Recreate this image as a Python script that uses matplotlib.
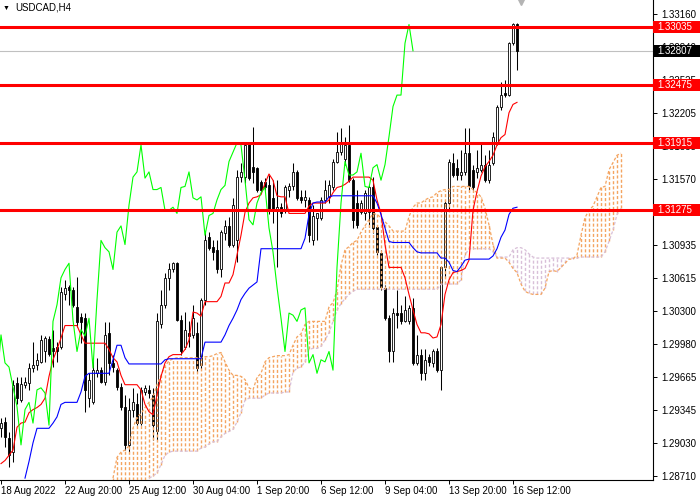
import numpy as np
import matplotlib.pyplot as plt
from matplotlib.patches import Rectangle
import matplotlib.transforms as mtransforms

plt.rcParams['font.family'] = ['Liberation Sans', 'DejaVu Sans']

nan = np.nan

# USDCAD H4 candles (bar 0 = 18 Aug 2022)
opens = [
    1.2917, 1.2923, 1.2908, 1.2894, 1.2961, 1.2944, 1.2959, 1.2961, 1.2975, 1.2978,
    1.2981, 1.2991, 1.3003, 1.2994, 1.2995, 1.2995, 1.3046, 1.3053, 1.3050, 1.3034,
    1.3024, 1.3023, 1.2946, 1.2942, 1.2970, 1.2973, 1.2962, 1.3009, 1.2980, 1.2973,
    1.2957, 1.2938, 1.2901, 1.2935, 1.2940, 1.2922, 1.2952, 1.2954, 1.2949, 1.2914,
    1.3017, 1.3036, 1.3062, 1.3070, 1.3076, 1.3021, 1.2995, 1.3009, 1.3007, 1.3009,
    1.2978, 1.3041, 1.3101, 1.3092, 1.3089, 1.3070, 1.3105, 1.3112, 1.3094, 1.3098,
    1.3159, 1.3159, 1.3192, 1.3169, 1.3168, 1.3154, 1.3154, 1.3151, 1.3139, 1.3127,
    1.3130, 1.3127, 1.3147, 1.3150, 1.3164, 1.3140, 1.3137, 1.3137, 1.3098, 1.3120,
    1.3120, 1.3137, 1.3140, 1.3149, 1.3174, 1.3183, 1.3176, 1.3190, 1.3156, 1.3134,
    1.3125, 1.3124, 1.3125, 1.3149, 1.3111, 1.3086, 1.3052, 1.3023, 1.2991, 1.3028,
    1.3028, 1.3020, 1.3020, 1.3033, 1.2980, 1.2988, 1.2970, 1.2986, 1.2980, 1.2991,
    1.2973, 1.3072, 1.3134, 1.3173, 1.3168, 1.3161, 1.3164, 1.3182, 1.3166, 1.3164,
    1.3166, 1.3171, 1.3156, 1.3173, 1.3193, 1.3227, 1.3240, 1.3238, 1.3288, 1.3306,
]
highs = [
    1.2927, 1.2928, 1.2913, 1.2964, 1.2966, 1.2966, 1.2966, 1.2980, 1.3000, 1.2990,
    1.3007, 1.3006, 1.3006, 1.3012, 1.3000, 1.3053, 1.3060, 1.3055, 1.3053, 1.3063,
    1.3028, 1.3028, 1.2970, 1.2985, 1.2985, 1.2976, 1.3019, 1.3019, 1.2988, 1.2975,
    1.2961, 1.2949, 1.2946, 1.2956, 1.2951, 1.2957, 1.2959, 1.2959, 1.2956, 1.3028,
    1.3050, 1.3067, 1.3076, 1.3077, 1.3077, 1.3026, 1.3029, 1.3020, 1.3036, 1.3019,
    1.3043, 1.3106, 1.3106, 1.3098, 1.3098, 1.3108, 1.3118, 1.3121, 1.3139, 1.3166,
    1.3173, 1.3193, 1.3193, 1.3207, 1.3169, 1.3156, 1.3158, 1.3161, 1.3156, 1.3156,
    1.3134, 1.3151, 1.3153, 1.3173, 1.3166, 1.3147, 1.3147, 1.3140, 1.3132, 1.3124,
    1.3140, 1.3156, 1.3156, 1.3176, 1.3202, 1.3206, 1.3198, 1.3209, 1.3158, 1.3147,
    1.3137, 1.3147, 1.3151, 1.3159, 1.3113, 1.3089, 1.3055, 1.3026, 1.3033, 1.3050,
    1.3036, 1.3044, 1.3036, 1.3043, 1.3007, 1.2993, 1.2993, 1.2989, 1.2993, 1.2994,
    1.3073, 1.3137, 1.3176, 1.3182, 1.3176, 1.3185, 1.3206, 1.3206, 1.3171, 1.3185,
    1.3192, 1.3180, 1.3185, 1.3202, 1.3228, 1.3251, 1.3253, 1.3289, 1.3307, 1.3307,
]
lows = [
    1.2909, 1.2899, 1.2880, 1.2885, 1.2940, 1.2942, 1.2956, 1.2954, 1.2971, 1.2973,
    1.2980, 1.2981, 1.2987, 1.2976, 1.2981, 1.2993, 1.3041, 1.3036, 1.3034, 1.3015,
    1.2999, 1.2933, 1.2938, 1.2940, 1.2966, 1.2961, 1.2959, 1.2968, 1.2971, 1.2954,
    1.2935, 1.2896, 1.2894, 1.2928, 1.2920, 1.2920, 1.2949, 1.2946, 1.2906, 1.2906,
    1.3014, 1.3033, 1.3050, 1.3068, 1.3020, 1.2988, 1.2993, 1.2995, 1.3004, 1.2971,
    1.2973, 1.3036, 1.3089, 1.3079, 1.3067, 1.3063, 1.3098, 1.3092, 1.3092, 1.3077,
    1.3154, 1.3153, 1.3156, 1.3153, 1.3145, 1.3144, 1.3147, 1.3123, 1.3115, 1.3072,
    1.3121, 1.3124, 1.3140, 1.3147, 1.3137, 1.3134, 1.3130, 1.3096, 1.3094, 1.3098,
    1.3118, 1.3134, 1.3134, 1.3147, 1.3173, 1.3180, 1.3171, 1.3154, 1.3110, 1.3110,
    1.3123, 1.3118, 1.3111, 1.3105, 1.3084, 1.3050, 1.3021, 1.2981, 1.2981, 1.3014,
    1.3017, 1.3019, 1.3017, 1.2978, 1.2978, 1.2964, 1.2964, 1.2977, 1.2976, 1.2971,
    1.2954, 1.3062, 1.3127, 1.3159, 1.3156, 1.3156, 1.3161, 1.3147, 1.3147, 1.3158,
    1.3164, 1.3154, 1.3153, 1.3171, 1.3190, 1.3224, 1.3236, 1.3237, 1.3286, 1.3262,
]
closes = [
    1.2922, 1.2909, 1.2891, 1.2959, 1.2946, 1.2960, 1.2962, 1.2975, 1.2978, 1.2983,
    1.3002, 1.3004, 1.2989, 1.2991, 1.2991, 1.3048, 1.3052, 1.3050, 1.3036, 1.3019,
    1.3019, 1.2954, 1.2964, 1.2973, 1.2973, 1.2962, 1.3007, 1.2980, 1.2976, 1.2957,
    1.2938, 1.2901, 1.2935, 1.2942, 1.2922, 1.2954, 1.2956, 1.2951, 1.2920, 1.3020,
    1.3036, 1.3062, 1.3070, 1.3076, 1.3021, 1.2991, 1.3012, 1.3006, 1.3023, 1.2975,
    1.3041, 1.3098, 1.3091, 1.3087, 1.3070, 1.3106, 1.3112, 1.3094, 1.3132, 1.3159,
    1.3164, 1.3190, 1.3158, 1.3164, 1.3147, 1.3147, 1.3149, 1.3127, 1.3127, 1.3130,
    1.3124, 1.3149, 1.3150, 1.3164, 1.3139, 1.3137, 1.3140, 1.3103, 1.3122, 1.3124,
    1.3137, 1.3147, 1.3151, 1.3174, 1.3183, 1.3192, 1.3190, 1.3156, 1.3118, 1.3113,
    1.3134, 1.3144, 1.3149, 1.3110, 1.3087, 1.3053, 1.3023, 1.2991, 1.3028, 1.3026,
    1.3020, 1.3031, 1.3033, 1.2980, 1.2988, 1.2970, 1.2983, 1.2981, 1.2991, 1.2973,
    1.3072, 1.3134, 1.3174, 1.3161, 1.3161, 1.3164, 1.3182, 1.3150, 1.3149, 1.3168,
    1.3171, 1.3156, 1.3171, 1.3198, 1.3227, 1.3238, 1.3238, 1.3288, 1.3306, 1.32807,
]

# Ichimoku lines
tenkan = [
    1.2883, 1.2886, 1.2891, 1.2896, 1.2918, 1.2922, 1.2923, 1.2932, 1.2935, 1.2937,
    1.2940, 1.2946, 1.2967, 1.2983, 1.2993, 1.3004, 1.3016, 1.3016, 1.3016, 1.3016,
    1.3007, 1.2999, 1.2999, 1.2999, 1.2999, 1.2999, 1.2999, 1.2993, 1.2985, 1.2981,
    1.2968, 1.2959, 1.2959, 1.2959, 1.2959, 1.2954, 1.2940, 1.2933, 1.2930, 1.2949,
    1.2967, 1.2980, 1.2986, 1.2988, 1.2988, 1.2988, 1.2993, 1.3002, 1.3029, 1.3028,
    1.3025, 1.3039, 1.3039, 1.3039, 1.3039, 1.3044, 1.3057, 1.3057, 1.3065, 1.3084,
    1.3103, 1.3125, 1.3134, 1.3139, 1.3140, 1.3142, 1.3153, 1.3162, 1.3156, 1.3141,
    1.3140, 1.3140, 1.3124, 1.3124, 1.3124, 1.3124, 1.3124, 1.3131, 1.3134, 1.3134,
    1.3134, 1.3134, 1.3137, 1.3144, 1.3149, 1.3150, 1.3152, 1.3155, 1.3159, 1.3159,
    1.3159, 1.3159, 1.3159, 1.3156, 1.3137, 1.3124, 1.3094, 1.3072, 1.3072, 1.3072,
    1.3072, 1.3062, 1.3046, 1.3031, 1.3017, 1.3009, 1.3009, 1.3008, 1.3004, 1.3005,
    1.3017, 1.3046, 1.3060, 1.3067, 1.3068, 1.3069, 1.3071, 1.3079, 1.3127, 1.3145,
    1.3160, 1.3169, 1.3174, 1.3180, 1.3190, 1.3197, 1.3200, 1.3221, 1.3229, 1.3231,
]
kijun = [
    nan, nan, nan, nan, nan, nan, 1.2869, 1.2885, 1.2903, 1.2917,
    1.2917, 1.2917, 1.2917, 1.2922, 1.2928, 1.2940, 1.2942, 1.2942, 1.2942, 1.2942,
    1.2952, 1.2967, 1.2970, 1.2970, 1.2970, 1.2970, 1.2970, 1.2970, 1.2983, 1.2997,
    1.2997, 1.2985, 1.2979, 1.2979, 1.2979, 1.2979, 1.2979, 1.2979, 1.2979, 1.2979,
    1.2979, 1.2983, 1.2984, 1.2984, 1.2984, 1.2984, 1.2984, 1.2984, 1.2984, 1.2984,
    1.2984, 1.3000, 1.3000, 1.3000, 1.3000, 1.3000, 1.3007, 1.3016, 1.3023, 1.3031,
    1.3041, 1.3047, 1.3052, 1.3055, 1.3058, 1.3090, 1.3090, 1.3090, 1.3090, 1.3090,
    1.3090, 1.3090, 1.3090, 1.3090, 1.3090, 1.3090, 1.3100, 1.3123, 1.3134, 1.3135,
    1.3135, 1.3135, 1.3140, 1.3141, 1.3141, 1.3141, 1.3141, 1.3141, 1.3141, 1.3141,
    1.3141, 1.3141, 1.3141, 1.3141, 1.3134, 1.3123, 1.3110, 1.3097, 1.3096, 1.3096,
    1.3096, 1.3096, 1.3096, 1.3091, 1.3087, 1.3086, 1.3086, 1.3086, 1.3086, 1.3086,
    1.3081, 1.3081, 1.3077, 1.3069, 1.3068, 1.3073, 1.3079, 1.3080, 1.3080, 1.3080,
    1.3080, 1.3080, 1.3080, 1.3083, 1.3090, 1.3101, 1.3108, 1.3123, 1.3129, 1.3130,
]

# cloud, first value at bar 28 (already shifted 26 bars forward)
cloud_start = 28
span_a = [
    1.2869, 1.2889,
    1.2894, 1.2896, 1.2900, 1.2917, 1.2928, 1.2931, 1.2937, 1.2942, 1.2947, 1.2959,
    1.2968, 1.2977, 1.2982, 1.2984, 1.2985, 1.2985, 1.2985, 1.2985, 1.2985, 1.2985,
    1.2985, 1.2986, 1.2986, 1.2987, 1.2989, 1.2990, 1.2981, 1.2973, 1.2968, 1.2968,
    1.2967, 1.2964, 1.2956, 1.2954, 1.2966, 1.2970, 1.2981, 1.2985, 1.2986, 1.2987,
    1.2987, 1.2987, 1.2988, 1.2997, 1.3005, 1.3008, 1.3017, 1.3020, 1.3020, 1.3020,
    1.3020, 1.3020, 1.3034, 1.3038, 1.3050, 1.3074, 1.3089, 1.3092, 1.3096, 1.3098,
    1.3106, 1.3112, 1.3118, 1.3124, 1.3123, 1.3120, 1.3116, 1.3112, 1.3107, 1.3107,
    1.3107, 1.3107, 1.3121, 1.3130, 1.3134, 1.3134, 1.3137, 1.3139, 1.3140, 1.3144,
    1.3146, 1.3147, 1.3147, 1.3150, 1.3150, 1.3150, 1.3150, 1.3150, 1.3147, 1.3144,
    1.3140, 1.3129, 1.3113, 1.3094, 1.3081, 1.3081, 1.3081, 1.3077, 1.3071, 1.3067,
    1.3056, 1.3049, 1.3047, 1.3046, 1.3046, 1.3046, 1.3052, 1.3068, 1.3069, 1.3068,
    1.3072, 1.3076, 1.3080, 1.3080, 1.3084, 1.3103, 1.3120, 1.3127, 1.3131, 1.3140,
    1.3149, 1.3150, 1.3166, 1.3173, 1.3180, 1.3182,
]
span_b = [
    nan, nan,
    nan, nan, nan, nan, nan, nan, nan, 1.2869, 1.2871, 1.2874,
    1.2882, 1.2891, 1.2894, 1.2895, 1.2895, 1.2895, 1.2895, 1.2895, 1.2895, 1.2895,
    1.2898, 1.2899, 1.2902, 1.2904, 1.2904, 1.2909, 1.2912, 1.2914, 1.2916, 1.2923,
    1.2932, 1.2944, 1.2946, 1.2946, 1.2946, 1.2946, 1.2949, 1.2951, 1.2951, 1.2951,
    1.2951, 1.2952, 1.2952, 1.2971, 1.2975, 1.2976, 1.2981, 1.2993, 1.2994, 1.2994,
    1.2996, 1.3002, 1.3009, 1.3020, 1.3031, 1.3037, 1.3042, 1.3046, 1.3049, 1.3051,
    1.3051, 1.3051, 1.3051, 1.3051, 1.3051, 1.3051, 1.3051, 1.3051, 1.3051, 1.3051,
    1.3051, 1.3051, 1.3051, 1.3051, 1.3051, 1.3051, 1.3051, 1.3051, 1.3051, 1.3051,
    1.3056, 1.3056, 1.3056, 1.3056, 1.3056, 1.3060, 1.3084, 1.3090, 1.3090, 1.3090,
    1.3090, 1.3090, 1.3090, 1.3087, 1.3082, 1.3082, 1.3082, 1.3082, 1.3089, 1.3091,
    1.3091, 1.3089, 1.3085, 1.3082, 1.3081, 1.3081, 1.3081, 1.3081, 1.3081, 1.3081,
    1.3081, 1.3081, 1.3081, 1.3081, 1.3081, 1.3082, 1.3082, 1.3082, 1.3082, 1.3082,
    1.3082, 1.3087, 1.3097, 1.3108, 1.3123, 1.3129,
]

levels = [1.33035, 1.32475, 1.31915, 1.31275]
bid = 1.32807
y_ticks = [1.33160, 1.32840, 1.32525, 1.32205, 1.31885, 1.31570, 1.31250, 1.30935,
           1.30615, 1.30300, 1.29980, 1.29665, 1.29345, 1.29030, 1.28710]
x_tick_bars = [0, 16, 32, 48, 64, 80, 96, 112, 128]
x_tick_labels = ['18 Aug 2022', '22 Aug 20:00', '25 Aug 12:00', '30 Aug 04:00',
                 '1 Sep 20:00', '6 Sep 12:00', '9 Sep 04:00', '13 Sep 20:00',
                 '16 Sep 12:00']

o = np.array(opens); h = np.array(highs); l = np.array(lows); c = np.array(closes)
n = len(o)
bars = np.arange(n)

fig = plt.figure(figsize=(7, 5), dpi=100)
ax = fig.add_axes([0, 0.04, 653 / 700, 0.96])
ymin, ymax = 1.28672, 1.33296
ax.set_xlim(-0.25, 163)
ax.set_ylim(ymin, ymax)

# candles
up = c >= o
ax.vlines(bars, l, h, colors='black', lw=0.75, zorder=2)
ax.bar(bars[up], (c - o)[up], bottom=o[up], width=0.62, color='white',
       edgecolor='black', lw=0.6, zorder=2.1)
ax.bar(bars[~up], (o - c)[~up], bottom=c[~up], width=0.62, color='black',
       edgecolor='black', lw=0.6, zorder=2.1)

# cloud: one dotted stroke per bar between the two spans
sa = np.array(span_a); sb = np.array(span_b)
cb = np.arange(cloud_start, cloud_start + len(sa))
for j, a, b in zip(cb, sa, sb):
    b = ymin if np.isnan(b) else b
    col = '#F4A460' if a >= b else '#D8BFD8'
    ax.plot([j, j], [min(a, b), max(a, b)], color=col, lw=1.0, ls=(0, (2.2, 1.5)),
            solid_capstyle='butt', zorder=3)
ax.plot(cb, sb, color='#D8BFD8', lw=0.9, ls=(0, (2.4, 1.6)), zorder=3.1)
ax.plot(cb, sa, color='#F4A460', lw=0.9, ls=(0, (2.4, 1.6)), zorder=3.2)

# tenkan, kijun, chikou
ax.plot(bars, tenkan, color='#FF0000', lw=0.8, zorder=4)
ax.plot(bars, kijun, color='#0000FF', lw=0.8, zorder=4)
ax.plot(bars - 26, c, color='#00FF00', lw=0.8, zorder=4)

# levels
ax.axhline(bid, color='#C0C0C0', lw=0.8, zorder=1)
for lv in levels:
    ax.axhline(lv, color='#FF0000', lw=2.2, zorder=5)

# chart shift marker
ax.plot([130], [1.33285], marker='v', ms=6, color='#B4B4B4', clip_on=False, zorder=6)

# axes
for s in ['left', 'top']:
    ax.spines[s].set_visible(False)
for s in ['right', 'bottom']:
    ax.spines[s].set_color('black')
    ax.spines[s].set_linewidth(0.8)
ax.yaxis.tick_right()
ax.set_yticks(y_ticks)
ax.set_yticklabels(['%.5f' % v for v in y_ticks], fontsize=7)
ax.tick_params(axis='y', length=3, width=0.7, pad=3)
ax.set_xticks(x_tick_bars)
ax.set_xticklabels(x_tick_labels, fontsize=7, ha='left')
ax.tick_params(axis='x', length=3, width=0.7, pad=1)

# price labels on the right scale
trans = mtransforms.blended_transform_factory(ax.transAxes, ax.transData)
box_w = 47 / 653
box_h = 12 / 10380
for lv, col in [(v, '#FF0000') for v in levels] + [(bid, 'black')]:
    ax.add_patch(Rectangle((1.0, lv - box_h / 2), box_w, box_h, transform=trans,
                           facecolor=col, edgecolor='none', clip_on=False, zorder=10))
    ax.text(1.0 + 4 / 653, lv, '%.5f' % lv, transform=trans, color='white',
            fontsize=7, va='center', ha='left', zorder=11, clip_on=False)

fig.text(3 / 700, 1 - 8 / 500, '\u25bc', fontsize=5, va='center', ha='left')
fig.text(15 / 700, 1 - 8 / 500, 'USDCAD,H4', fontsize=7, va='center', ha='left')

fig.savefig('out.png', dpi=100)
